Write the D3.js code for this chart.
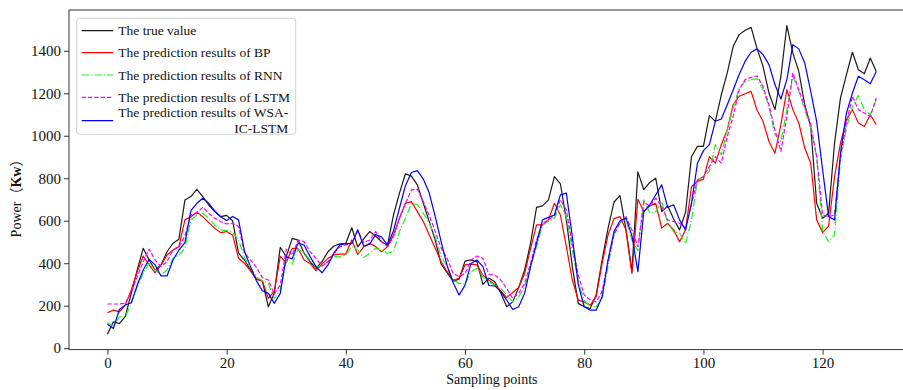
<!DOCTYPE html>
<html><head><meta charset="utf-8">
<script src="https://cdn.jsdelivr.net/npm/d3@7"></script>
<style>body{margin:0;background:#fff}svg{display:block}text{font-family:"Liberation Serif","Times New Roman",serif}</style>
</head><body><svg id="c" width="903" height="390"></svg>
<script>
const trueValue=[66,124,116,150,258,368,470,415,368,392,454,494,513,698,714,748,714,674,643,619,625,600,447,415,368,325,316,195,260,475,431,517,509,447,407,376,407,454,481,491,494,567,477,515,549,528,501,485,627,730,821,810,769,682,596,509,395,356,315,325,410,416,407,300,330,313,260,195,218,285,368,494,663,670,698,808,774,604,384,211,195,187,250,415,565,688,718,560,360,830,746,780,800,643,670,608,557,640,902,950,950,1095,1068,1193,1296,1421,1476,1497,1510,1410,1327,1201,1123,1280,1519,1390,1303,1146,1044,682,612,635,965,1178,1288,1393,1311,1292,1366,1303];
const bp=[167,179,171,203,274,360,434,392,355,392,439,462,478,604,619,640,619,591,565,544,549,533,423,399,364,325,317,234,268,432,403,470,468,415,399,365,396,423,439,443,443,509,441,477,494,478,454,478,533,612,682,690,643,596,533,470,407,360,321,329,392,396,392,344,320,300,270,238,262,286,352,470,580,580,604,682,627,478,321,226,218,203,242,399,533,610,619,557,352,701,643,670,682,565,588,557,501,557,761,785,796,902,871,958,1028,1146,1186,1198,1209,1120,1068,973,918,1052,1217,1123,1060,942,871,604,544,575,808,965,1075,1123,1060,1044,1099,1052];
const rnn=[119,104,148,148,211,289,352,399,368,344,368,423,439,470,604,627,635,612,580,557,553,545,509,427,380,335,317,303,234,274,411,395,466,450,415,381,387,407,431,430,439,478,462,427,447,470,462,447,454,549,612,682,675,635,588,525,431,384,321,305,302,360,376,336,313,297,281,250,218,242,289,384,478,580,596,612,675,619,462,313,226,195,195,234,384,540,590,608,509,458,698,638,643,690,588,549,541,491,604,792,808,832,958,910,1028,1131,1225,1256,1265,1268,1217,1138,1005,973,1123,1280,1209,1123,1036,902,549,501,533,887,1036,1138,1189,1123,1099,1170];
const lstm=[208,208,208,211,266,336,407,466,415,384,407,462,478,528,627,638,663,635,612,596,585,588,573,450,415,380,332,321,254,298,466,439,509,501,454,423,387,407,447,478,486,494,553,497,509,549,501,478,525,612,682,745,748,690,624,549,470,423,352,336,352,415,434,423,348,344,321,281,234,258,305,399,509,588,604,623,698,651,486,344,250,226,218,266,415,533,591,619,557,478,690,667,706,667,604,596,588,565,680,792,808,855,902,871,997,1091,1217,1264,1275,1282,1233,1146,1028,926,1091,1296,1217,1138,1052,902,627,619,627,902,1060,1186,1123,1107,1091,1178];
const wsa=[113,93,182,203,214,297,368,418,392,340,340,415,462,497,648,682,706,682,646,619,601,620,604,455,384,317,270,258,211,258,431,420,495,485,431,384,355,392,447,486,492,492,557,480,490,535,523,486,553,660,765,827,836,796,730,619,500,388,309,250,297,399,415,384,295,293,266,226,182,195,258,384,494,604,616,627,722,730,525,299,195,179,179,242,415,550,600,612,530,360,643,675,722,769,663,675,604,557,682,871,930,958,1068,1079,1146,1217,1288,1351,1393,1409,1382,1335,1241,1173,1264,1429,1409,1343,1209,1068,840,619,604,918,1107,1201,1280,1264,1245,1303];
const xTicks=[0,20,40,60,80,100,120];
const yTicks=[0,200,400,600,800,1000,1200,1400];
const seriesNames=["The true value","The prediction results of BP","The prediction results of RNN","The prediction results of LSTM","The prediction results of WSA-"];

const svg=d3.select("#c");
const L=69,T=10,R=914.7,B=349.6;
const x=d3.scaleLinear().domain([-6.45,135.45]).range([L,R]);
const y=d3.scaleLinear().domain([-6.7,1592]).range([B,T]);

const series=[
 {name:seriesNames[0],data:trueValue,color:"#1a1a1a",dash:null},
 {name:seriesNames[1],data:bp,color:"#ff0000",dash:null},
 {name:seriesNames[2],data:rnn,color:"#22ee22",dash:"7.5,2,1.2,2"},
 {name:seriesNames[3],data:lstm,color:"#ff00ff",dash:"4.4,1.9"},
 {name:seriesNames[4],data:wsa,color:"#0000ff",dash:null}
];
const line=d3.line().x((d,i)=>x(i)).y(d=>y(d));
series.forEach(s=>{
  svg.append("path").datum(s.data).attr("d",line).attr("fill","none")
    .attr("stroke",s.color).attr("stroke-width",1.2).attr("stroke-dasharray",s.dash)
    .attr("stroke-linejoin","round");
});

// axes
const gx=svg.append("g").attr("transform",`translate(0,${B})`)
  .call(d3.axisBottom(x).tickValues(xTicks).tickSize(5).tickPadding(3).tickFormat(d3.format("d")));
const gy=svg.append("g").attr("transform",`translate(${L},0)`)
  .call(d3.axisLeft(y).tickValues(yTicks).tickSize(5).tickPadding(3).tickFormat(d3.format("d")));
[gx,gy].forEach(g=>{g.select(".domain").remove();
  g.selectAll("text").attr("font-size",15).attr("fill","#111").style("font-family","Liberation Serif");
  g.selectAll("line").attr("stroke","#333");});
svg.append("rect").attr("x",L).attr("y",T).attr("width",R-L).attr("height",B-T)
  .attr("fill","none").attr("stroke","#333").attr("stroke-width",1);

svg.append("text").attr("x",(L+R)/2).attr("y",384).attr("text-anchor","middle")
  .attr("font-size",14).attr("fill","#111").text("Sampling points");
const yl=svg.append("text").attr("transform","translate(21,195) rotate(-90)").attr("text-anchor","middle")
  .attr("font-size",14).attr("fill","#111");
yl.append("tspan").text("Power");
yl.append("tspan").style("font-family","'Noto Sans CJK SC'").text("（");
yl.append("tspan").attr("font-weight","bold").text("Kw");
yl.append("tspan").style("font-family","'Noto Sans CJK SC'").text("）");

// legend
const lg=svg.append("g");
lg.append("rect").attr("x",76.7).attr("y",18.3).attr("width",219).attr("height",116).attr("rx",3)
  .attr("fill","#fff").attr("fill-opacity",0.8).attr("stroke","#d0d0d0").attr("stroke-width",1);
const rowY=[30.7,52.7,75,97.3,120.7];
series.forEach((s,i)=>{
  lg.append("line").attr("x1",81.7).attr("x2",113.3).attr("y1",rowY[i]).attr("y2",rowY[i])
    .attr("stroke",s.color).attr("stroke-width",1.2).attr("stroke-dasharray",s.dash);
  if(i<4){
    lg.append("text").attr("x",118.3).attr("y",rowY[i]+4.5).attr("font-size",13.5).attr("fill","#111").text(s.name);
  }
});
const t1=lg.append("text").attr("x",118.3).attr("y",117).attr("font-size",13.5).attr("fill","#111").text(seriesNames[4]);
const w=t1.node().getComputedTextLength();
lg.append("text").attr("x",118.3+w).attr("y",132.5).attr("text-anchor","end").attr("font-size",13.5).attr("fill","#111").text("IC-LSTM");
</script></body></html>
